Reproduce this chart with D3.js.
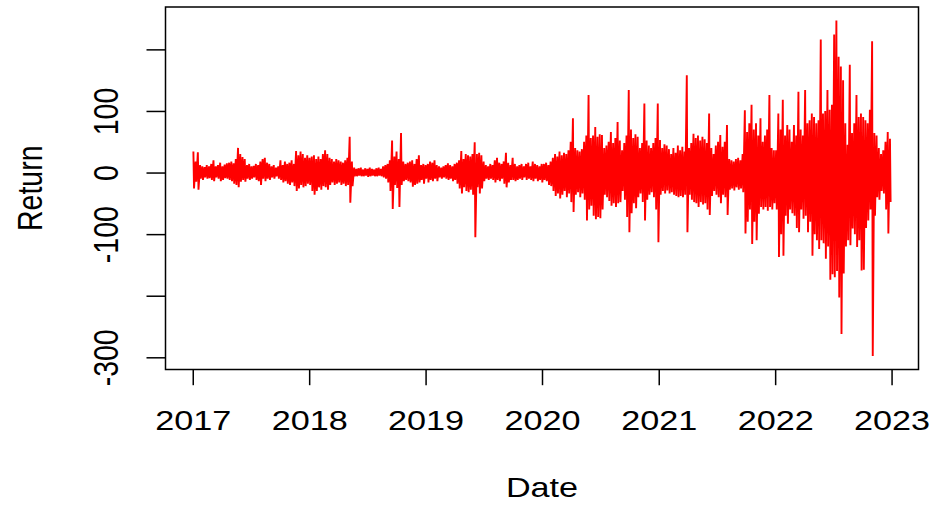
<!DOCTYPE html>
<html>
<head>
<meta charset="utf-8">
<script src="https://cdn.jsdelivr.net/npm/d3@7"></script>
<style>
  body { margin: 0; background: #fff; }
  text { font-family: "Liberation Sans", Arial, sans-serif; fill: #000; }
</style>
</head>
<body>
<div id="chart"></div>
<script>
// weekly high / low returns (one pair per week, Mondays from 2017-01-02)
const hi2017 = [34,18,33,12,10,9,12,10,14,20, 10,12,16,10,13,15,16,18,15,22, 40,30,25,22,12,14,10,11,14,12, 18,22,24,16,14,10,12,8,10,20, 12,18,14,16,20,14,35,28,34,30, 24,28];
const lo2017 = [-26,-15,-28,-10,-12,-8,-10,-9,-12,-14, -8,-10,-14,-12,-9,-10,-12,-14,-18,-20, -24,-15,-12,-15,-10,-12,-10,-8,-12,-14, -20,-10,-14,-10,-12,-8,-10,-6,-10,-12, -16,-14,-18,-20,-16,-22,-30,-26,-20,-24, -22,-18];
const hi2018 = [24,26,28,22,26,22,30,36,30,24, 22,18,22,20,18,16,20,24,58,18, 8,6,7,8,5,7,6,8,6,5, 7,8,6,10,12,14,20,52,26,34, 22,64,18,14,16,18,20,14,22,28, 12,14,12];
const lo2018 = [-20,-30,-36,-30,-24,-28,-22,-24,-28,-20, -16,-20,-18,-16,-20,-18,-22,-20,-49,-22, -6,-6,-5,-6,-6,-5,-7,-6,-5,-6, -6,-5,-6,-8,-10,-16,-30,-59,-20,-25, -56,-20,-14,-12,-14,-16,-23,-20,-18,-16, -12,-18,-10];
const hi2019 = [14,18,16,20,12,10,8,10,12,15, 12,10,14,16,20,35,22,30,28,26, 30,49,30,32,28,18,12,10,14,12, 20,24,16,14,18,32,16,12,24,14, 10,12,14,10,14,16,10,18,14,12, 10,14];
const lo2019 = [-16,-12,-14,-10,-14,-8,-10,-8,-10,-12, -10,-14,-12,-18,-26,-34,-24,-30,-32,-28, -36,-105,-24,-34,-26,-14,-10,-12,-10,-12, -16,-12,-14,-10,-18,-24,-16,-12,-12,-14, -12,-10,-12,-8,-12,-10,-12,-14,-10,-14, -12,-16];
const hi2020 = [14,16,12,18,24,30,26,34,28,32, 30,36,50,88,40,36,34,38,50,60, 126,56,60,74,58,62,61,40,44,50, 66,48,56,82,52,36,48,60,134,70, 56,62,58,40,48,112,52,44,40,48, 56,112];
const lo2020 = [-12,-14,-20,-22,-30,-38,-34,-42,-36,-30, -40,-34,-48,-64,-36,-32,-40,-34,-44,-78, -60,-54,-70,-76,-72,-74,-60,-36,-40,-46, -54,-50,-56,-50,-48,-30,-44,-72,-97,-66, -50,-58,-40,-34,-48,-78,-44,-36,-32,-40, -60,-113];
const hi2021 = [53,40,46,44,38,30,40,32,44,36, 42,34,158,40,48,63,56,60,52,58, 54,48,96,40,30,44,50,61,42,50, 77,22,20,18,22,24,20,30,101,66, 80,110,70,80,60,88,50,60,70,126, 40,36];
const lo2021 = [-36,-30,-34,-29,-34,-32,-36,-38,-40,-38, -40,-36,-97,-36,-44,-48,-50,-56,-48,-52, -50,-60,-69,-38,-30,-36,-40,-50,-36,-40, -69,-28,-26,-29,-24,-28,-26,-32,-99,-80, -60,-116,-80,-110,-67,-56,-60,-56,-62,-56, -60,-50];
const hi2022 = [36,96,70,118,60,77,70,50,77,60, 131,70,60,134,80,85,96,90,80,85, 216,96,100,134,102,110,224,247,188,172, 150,80,45,175,64,80,126,90,96,90, 85,80,102,213,64,60,40,30,36,50, 66,55];
const lo2022 = [-60,-137,-100,-135,-70,-83,-60,-66,-70,-90, -97,-60,-75,-70,-97,-80,-135,-100,-110,-124, -110,-115,-140,-120,-174,-165,-170,-160,-203,-262, -164,-120,-110,-118,-91,-100,-121,-110,-159,-158, -90,-78,-60,-298,-70,-40,-44,-30,-34,-60, -99,-48];

const xTickYears = [2017, 2018, 2019, 2020, 2021, 2022, 2023];
const yTicks = [-300, -200, -100, 0, 100, 200];
const yTickLabels = [-300, -100, 0, 100];

const canvas = {width: 935, height: 506};
const box = {left: 165.5, right: 918.5, top: 7, bottom: 369.5};
const fontSize = 28.5;
const stretch = 1.2;   // the picture is a bit wider than tall

const highs = [].concat(hi2017, hi2018, hi2019, hi2020, hi2021, hi2022);
const lows = [].concat(lo2017, lo2018, lo2019, lo2020, lo2021, lo2022);
const mondays = d3.timeMonday.range(new Date(2017, 0, 2), new Date(2022, 11, 27));

const points = [];
mondays.forEach((m, i) => {
    points.push({date: d3.timeDay.offset(m, 1), value: highs[i]});
    points.push({date: d3.timeDay.offset(m, 3), value: lows[i]});
});

// R style 4% padding on both axes
const pad = (ext) => { const d = (ext[1] - ext[0]) * 0.04; return [ext[0] - d, ext[1] + d]; };
const dateExt = d3.extent(points, d => +d.date);
const xScale = d3.scaleTime()
    .domain(pad(dateExt).map(t => new Date(t)))
    .range([box.left, box.right]);
const yScale = d3.scaleLinear()
    .domain(pad(d3.extent(points, d => d.value)))
    .range([box.bottom, box.top]);

const svg = d3.select('#chart')
    .append('svg')
    .attr('width', canvas.width)
    .attr('height', canvas.height);

svg.append('rect')
    .attr('width', canvas.width)
    .attr('height', canvas.height)
    .attr('fill', '#fff');

// the return series
svg.append('path')
    .datum(points)
    .attr('fill', 'none')
    .attr('stroke', '#ff0000')
    .attr('stroke-width', 1.9)
    .attr('d', d3.line().x(d => xScale(d.date)).y(d => yScale(d.value)));

// x axis
const xAxis = svg.append('g')
    .attr('transform', `translate(0, ${box.bottom})`)
    .call(d3.axisBottom(xScale)
        .tickValues(xTickYears.map(y => new Date(y, 0, 1)))
        .tickSize(15.7)
        .tickFormat(d3.timeFormat('%Y')));
xAxis.select('.domain').remove();
xAxis.selectAll('line').attr('stroke', '#000').attr('stroke-width', 1.5);
xAxis.selectAll('text')
    .attr('y', 60.5)
    .attr('dy', null)
    .attr('fill', '#000')
    .attr('font-size', fontSize)
    .attr('font-family', '"Liberation Sans", Arial, sans-serif')
    .attr('transform', `scale(${stretch},1)`);

// y axis
const yAxis = svg.append('g')
    .attr('transform', `translate(${box.left}, 0)`)
    .call(d3.axisLeft(yScale)
        .tickValues(yTicks)
        .tickSize(19)
        .tickFormat(d => yTickLabels.includes(d) ? d : ''));
yAxis.select('.domain').remove();
yAxis.selectAll('line').attr('stroke', '#000').attr('stroke-width', 1.5);
yAxis.selectAll('text')
    .attr('x', 0)
    .attr('dy', null)
    .attr('text-anchor', 'middle')
    .attr('fill', '#000')
    .attr('font-size', fontSize)
    .attr('font-family', '"Liberation Sans", Arial, sans-serif')
    .attr('transform', `translate(-47.5,0) scale(${stretch},1) rotate(-90)`);

// plot frame
svg.append('rect')
    .attr('x', box.left)
    .attr('y', box.top)
    .attr('width', box.right - box.left)
    .attr('height', box.bottom - box.top)
    .attr('fill', 'none')
    .attr('stroke', '#000')
    .attr('stroke-width', 1.5);

// axis titles
svg.append('text')
    .text('Date')
    .attr('text-anchor', 'middle')
    .attr('font-size', fontSize)
    .attr('transform', `translate(${(box.left + box.right) / 2}, 497) scale(${stretch},1)`);

svg.append('text')
    .text('Return')
    .attr('text-anchor', 'middle')
    .attr('font-size', fontSize)
    .attr('transform', `translate(42, ${(box.top + box.bottom) / 2}) scale(${stretch},1) rotate(-90)`);
</script>
</body>
</html>
